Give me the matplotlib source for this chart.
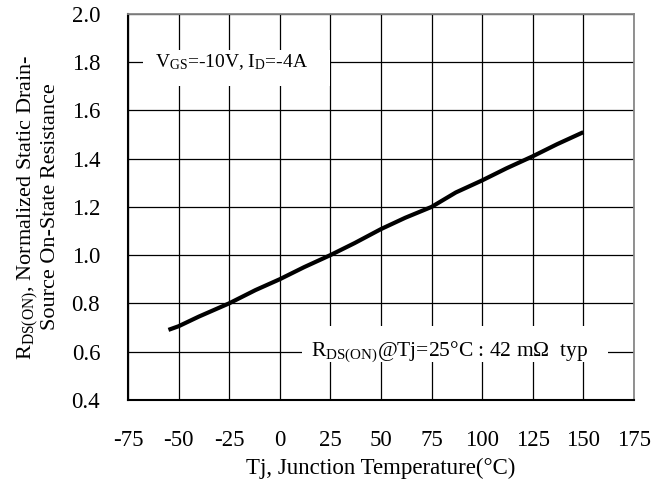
import matplotlib
matplotlib.use('Agg')
import matplotlib.pyplot as plt
from matplotlib.patches import Rectangle

plt.rcParams['font.family'] = 'Liberation Serif'
plt.rcParams['mathtext.fontset'] = 'custom'
plt.rcParams['mathtext.rm'] = 'Liberation Serif'
plt.rcParams['mathtext.it'] = 'Liberation Serif:italic'
plt.rcParams['axes.unicode_minus'] = False

# junction temperature (C) vs normalized on-resistance
temp = [-55, -50, -40, -25, -12, 0, 12, 25, 37, 50, 62, 75, 87, 100, 112, 125, 137, 150]
rds = [0.69, 0.705, 0.745, 0.80, 0.855, 0.90, 0.95, 1.0, 1.05, 1.108, 1.155, 1.20,
       1.26, 1.31, 1.36, 1.41, 1.46, 1.51]

xticks = [-75, -50, -25, 0, 25, 50, 75, 100, 125, 150, 175]
yticks = [0.4, 0.6, 0.8, 1.0, 1.2, 1.4, 1.6, 1.8, 2.0]

fig = plt.figure(figsize=(6.61, 4.84), dpi=100)
ax = fig.add_axes([0.1936, 0.174, 0.7655, 0.797])

ax.set_xlim(-75, 175)
ax.set_ylim(0.4, 2.0)
ax.set_xticks(xticks)
ax.set_yticks(yticks)
ax.set_yticklabels(['%.1f' % v for v in yticks])
ax.tick_params(length=0, labelsize=16.5)
ax.tick_params(axis='x', pad=22)
ax.tick_params(axis='y', pad=20)
ax.grid(True, color='black', linewidth=0.9)
ax.set_axisbelow(True)

for s in ['left', 'bottom']:
    ax.spines[s].set_linewidth(1.5)
for s in ['top', 'right']:
    ax.spines[s].set_color('#888888')
    ax.spines[s].set_linewidth(1.3)

ax.plot(temp, rds, color='black', linewidth=3, solid_capstyle='butt', zorder=5)

# white label boxes over the grid
ax.add_patch(Rectangle((-67.6, 1.70), 92.4, 0.15, facecolor='white', edgecolor='none', zorder=3))
ax.text(-61.5, 1.8, r'V$_{\mathrm{GS}}$=-10V, I$_{\mathrm{D}}$=-4A', fontsize=14,
        va='center', ha='left', zorder=4)

ax.add_patch(Rectangle((11, 0.555), 151, 0.15, facecolor='white', edgecolor='none', zorder=3))
ax.text(84, 0.6, r'R$_{\mathrm{DS(ON)}}$@Tj=25°C : 42 m$\Omega$  typ', fontsize=15.5,
        va='center', ha='center', zorder=4)

ax.set_xlabel('Tj, Junction Temperature(°C)', fontsize=16.5, labelpad=5)
ax.set_ylabel('R$_{\\mathrm{DS(ON)}}$, Normalized Static Drain-\nSource On-State Resistance',
              fontsize=16, labelpad=8, linespacing=1.1)

fig.savefig('out.png', dpi=100)
